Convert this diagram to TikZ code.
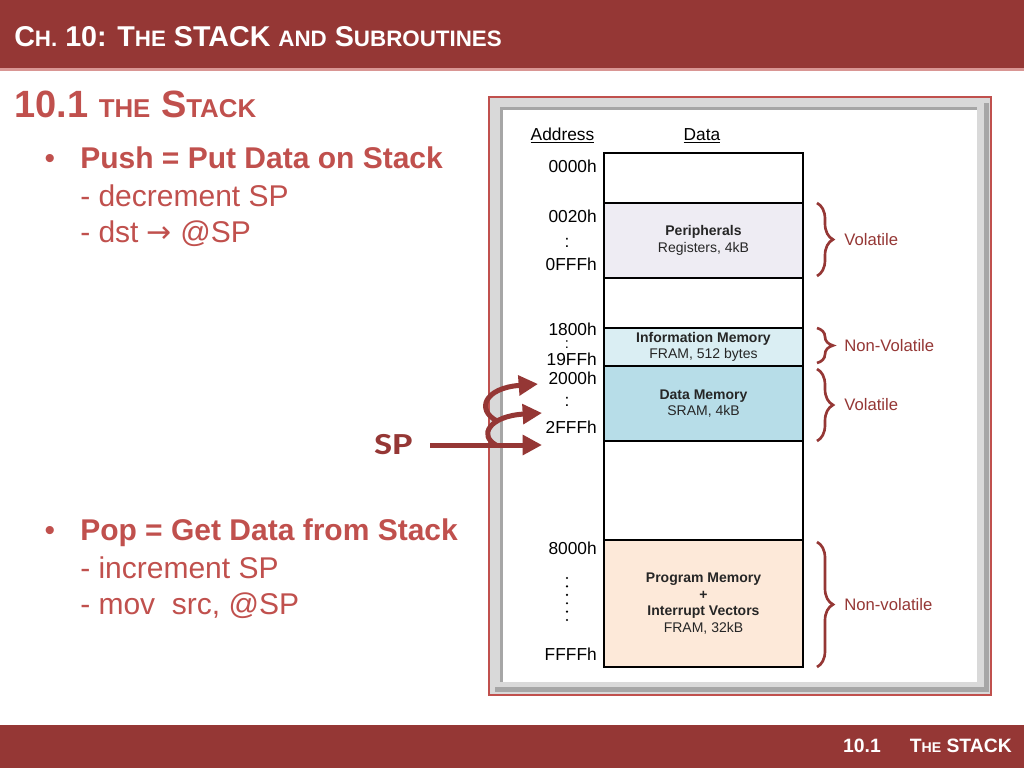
\documentclass[tikz,border=0pt]{standalone}
\usepackage{fontspec}
\setmainfont{Liberation Sans}
\newfontfamily\spfont{Carlito}
\newfontfamily\symfont{DejaVu Sans}
\usepackage{graphicx}
\usepackage{xcolor}
\usetikzlibrary{arrows.meta,positioning,decorations.pathreplacing}

\definecolor{barRed}{HTML}{953735}
\definecolor{headRed}{HTML}{C0504D}
\definecolor{barLine}{HTML}{D99694}
\definecolor{frameGray}{HTML}{D9D9D9}
\definecolor{frameDark}{HTML}{A6A6A6}
\definecolor{periphFill}{HTML}{EEECF3}
\definecolor{infoFill}{HTML}{DAEEF3}
\definecolor{dataFill}{HTML}{B7DDE8}
\definecolor{progFill}{HTML}{FDE9D9}

% fake small caps
\newcommand{\fsc}[2][0.74]{\scalebox{#1}{#2}}

\begin{document}
\begin{tikzpicture}[x=0.75pt,y=-0.75pt,>=Latex,
 memblk/.style={draw=black,line width=1.5pt,minimum width=149.25pt,inner sep=0pt,outer sep=0pt,
   align=center,text=black!85,font=\fontsize{10.5}{12.5}\selectfont},
 memfont/.style={inner sep=0pt,font=\fontsize{13}{15}\selectfont},
 addr/.style={memfont,anchor=base east},
 membrace/.style={decorate,decoration={brace,amplitude=12pt},draw=barRed,line width=2pt},
 vol/.style={midway,anchor=west,xshift=19.5pt,inner sep=0pt,text=barRed,font=\fontsize{12.5}{15}\selectfont},
 bultext/.style={anchor=base west,inner sep=0pt,text=headRed,font=\fontsize{22.5}{27}\selectfont},
 sparrow/.style={draw=barRed,line width=3.75pt,-{Triangle[length=14.5pt,width=14.5pt]}}]
 \useasboundingbox (0,0) rectangle (1024,768);

 % header and footer bars
 \fill[barRed] (0,0) rectangle (1024,68);
 \fill[barLine] (0,68) rectangle (1024,71);
 \fill[barRed] (0,725) rectangle (1024,768);
 \node[anchor=base west,inner sep=0pt,text=white,font=\bfseries\fontsize{21.5}{24}\selectfont] (title) at (14,46)
  {C\fsc[0.78]{H.} 10: T\fsc[0.78]{HE} STACK \fsc[0.78]{AND} S\fsc[0.78]{UBROUTINES}};
 \node[anchor=base east,inner sep=0pt,text=white,font=\bfseries\fontsize{14.5}{18}\selectfont] (foot) at (1012,752)
  {10.1\hspace{1.5em}T\fsc[0.73]{HE} STACK};

 % left column
 \node[anchor=base west,inner sep=0pt,text=headRed,font=\bfseries\fontsize{28.5}{32}\selectfont] (sect) at (14,117)
  {10.1 \fsc[0.68]{THE} S\fsc[0.68]{TACK}};
 \node[bultext,anchor=base] (b1) at (50,168) {•};
 \node[bultext,font=\bfseries\fontsize{22.5}{27}\selectfont] (push) at (80,168) {Push = Put Data on Stack};
 \node[bultext] (pushdec) at (80,206) {- decrement SP};
 \node[bultext] (pushdst) at (80,242) {- dst {\symfont →} @SP};
 \node[bultext,anchor=base] (b2) at (50,540) {•};
 \node[bultext,font=\bfseries\fontsize{22.5}{27}\selectfont] (pop) at (80,540) {Pop = Get Data from Stack};
 \node[bultext] (popinc) at (80,578) {- increment SP};
 \node[bultext] (popmov) at (80,614) {- mov~ src, @SP};

 % picture frame
 \draw[headRed,line width=1pt,fill=frameGray] (489,97) rectangle (991,695);
 \fill[frameDark] (495,103) rectangle (989,692);
 \fill[frameGray] (490,98) rectangle (984,687);
 \fill[frameDark] (500,107) rectangle (977,682);
 \fill[white] (503,110) rectangle (977,682);

 % memory map
 \node[memfont,anchor=base] (hAddr) at (562.5,140) {\underline{Address}};
 \node[memfont,anchor=base] (hData) at (702,140) {\underline{Data}};
 \node[memblk,minimum height=37.5pt] (top) at (703.5,178) {};
 \node[memblk,fill=periphFill,minimum height=56.25pt,below=0pt of top] (periph) {\textbf{Peripherals}\\Registers, 4kB};
 \node[memblk,minimum height=37.5pt,below=0pt of periph] (gap1) {};
 \node[memblk,fill=infoFill,minimum height=28.5pt,below=0pt of gap1] (info) {\textbf{Information Memory}\\FRAM, 512 bytes};
 \node[memblk,fill=dataFill,minimum height=56.25pt,below=0pt of info] (data) {\textbf{Data Memory}\\SRAM, 4kB};
 \node[memblk,minimum height=74.25pt,below=0pt of data] (gap2) {};
 \node[memblk,fill=progFill,minimum height=95.25pt,below=0pt of gap2] (prog)
  {\textbf{Program Memory}\\\textbf{+}\\\textbf{Interrupt Vectors}\\FRAM, 32kB};

 % addresses
 \node[addr] (a0000) at (597,172) {0000h};
 \node[addr] (a0020) at (597,222) {0020h};
 \node[memfont] (col1) at (567,243) {:};
 \node[addr] (a0FFF) at (597,270) {0FFFh};
 \node[addr] (a1800) at (597,335) {1800h};
 \node[memfont,font=\fontsize{11}{13}\selectfont] (col2) at (567,345) {:};
 \node[addr] (a19FF) at (597,365) {19FFh};
 \node[addr] (a2000) at (597,384) {2000h};
 \node[memfont] (col3) at (567,402) {:};
 \node[addr] (a2FFF) at (597,433) {2FFFh};
 \node[addr] (a8000) at (597,554) {8000h};
 \foreach \i in {0,...,5}
  \fill (567,578+8.4*\i) circle (0.9pt);
 \node[addr] (aFFFF) at (597,660) {FFFFh};

 % braces
 \draw[membrace] ([xshift=10.5pt]periph.north east) -- node[vol] {Volatile} ([xshift=10.5pt,yshift=1.5pt]periph.south east);
 \draw[membrace] ([xshift=10.5pt]info.north east) -- node[vol] {Non-Volatile} ([xshift=10.5pt,yshift=2.25pt]info.south east);
 \draw[membrace] ([xshift=10.5pt,yshift=-2.25pt]data.north east) -- node[vol] {Volatile} ([xshift=10.5pt]data.south east);
 \draw[membrace] ([xshift=10.5pt,yshift=-1.5pt]prog.north east) -- node[vol] {Non-volatile} ([xshift=10.5pt]prog.south east);

 % stack pointer
 \node[inner sep=0pt,text=barRed,font=\spfont\bfseries\fontsize{23}{26}\selectfont] (SP) at (393.5,445) {\scalebox{1.25}[1]{SP}};
 \coordinate (sp0) at (542,445);
 \coordinate (sp1) at (542,413);
 \coordinate (sp2) at (538,384);
 \coordinate (cu0) at (496,445);
 \coordinate (cu1) at (497,421);
 \draw[sparrow] ([xshift=13pt]SP.east) -- (sp0);
 \draw[sparrow] (cu0) .. controls (478,435) and (490,416) .. (sp1);
 \draw[sparrow] (cu1) .. controls (476,410) and (484,388) .. (sp2);
\end{tikzpicture}
\end{document}
